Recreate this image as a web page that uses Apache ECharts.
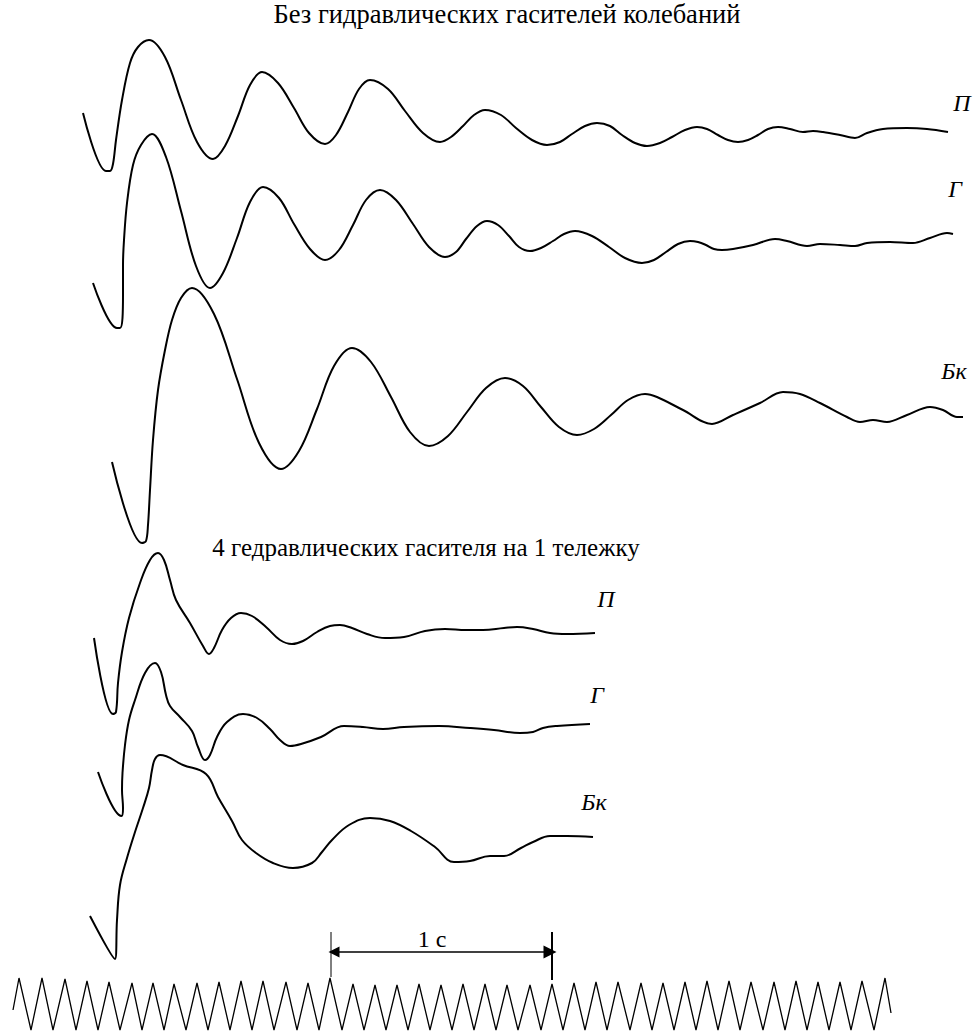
<!DOCTYPE html>
<html><head><meta charset="utf-8">
<script src="https://cdn.jsdelivr.net/npm/echarts@6/dist/echarts.min.js"></script>
<style>html,body{margin:0;padding:0;background:#fff}#c{width:973px;height:1032px}</style>
</head><body><div id="c"></div>
<script>
var topP = [[83,113],[106,171],[110,171],[113,164],[116,140],[122,100],[130,63],[138,47],[149,40],[165,57],[181,100],[197,142],[213,159],[225,146],[238,116],[250,85],[262,72],[278,83],[294,108],[309,133],[325,144],[336,135],[348,112],[359,89],[370,80],[388,89],[405,111],[423,133],[440,142],[451,137],[463,126],[474,115],[485,110],[501,115],[516,128],[532,140],[547,145],[560,142],[572,134],[585,126],[597,123],[610,126],[622,135],[635,143],[647,146],[660,143],[672,137],[685,130],[697,127],[707,129],[718,135],[728,140],[738,142],[748,140],[758,135],[768,129],[778,127],[790,129],[803,132],[813,131],[823,132],[840,135],[855,138],[867,133],[883,129],[907,128],[927,129],[948,132]];
var topG = [[93,283],[117,328],[120,328],[122.5,318],[123,295],[123,265],[124,240],[127,203],[133,165],[141,145],[152,134],[166,157],[181,211],[196,266],[210,288],[223,273],[237,238],[250,202],[263,187],[279,198],[294,224],[310,249],[325,260],[339,250],[353,225],[366,200],[380,190],[396,200],[413,224],[429,247],[445,257],[456,252],[466,239],[477,226],[487,221],[498,225],[509,236],[519,247],[530,251],[541,248],[553,241],[564,234],[575,231],[592,236],[609,247],[625,258],[642,263],[654,260],[666,252],[678,244],[690,241],[698,242],[706,245],[714,249],[722,250],[733,249],[753,245],[775,239],[787,241],[807,246],[820,244],[840,245],[855,246],[867,243],[890,242],[913,243],[930,238],[947,233],[953,234]];
var topBk = [[112,462],[142,543],[146,541],[148,525],[150,490],[153,440],[158,390],[165,350],[172,320],[181,298],[192,288],[214,314],[237,379],[259,443],[281,469],[299,451],[317,409],[334,366],[352,348],[371,362],[391,397],[410,432],[429,446],[448,436],[467,412],[486,388],[505,378],[523,386],[541,407],[559,427],[577,435],[594,429],[611,415],[628,400],[645,394],[657,397],[683,410],[712,424],[733,415],[760,403],[783,392],[800,394],[820,403],[847,417],[860,422],[873,420],[887,422],[907,415],[930,407],[943,410],[957,417],[963,417]];
var lowP = [[94,638],[113,714],[116,712],[118,683],[122,652],[129,618],[140,583],[150,560],[158,553],[164,560],[170,580],[176,600],[190,623],[203,646],[209,654],[214,648],[222,630],[231,618],[241,613],[252,616],[266,627],[280,640],[292,644],[303,641],[317,632],[330,626],[340,625],[352,628],[367,634],[385,638],[404,637],[425,631],[445,629],[466,630],[483,630],[504,628],[517,627],[533,629],[550,633],[567,634],[595,633]];
var lowG = [[98,772],[121.5,816],[123,808],[122,790],[122.5,773],[125,745],[129,720],[135,700],[145,673],[155,663],[161,672],[166,695],[170,706],[180,717],[192,731],[198,747],[205,760],[210,755],[217,737],[227,722],[243,714],[257,718],[270,729],[280,740],[290,746],[301,744],[321,737],[344,726],[363,727],[383,729],[404,727],[439,726],[470,728],[494,730],[520,733],[533,732],[543,728],[557,726],[590,724]];
var lowBk = [[90,916],[115,959],[117,920],[120,885],[127,858],[135,832],[143,808],[149,788],[152,770],[155,759],[160,755],[183,765],[206,774],[218,797],[232,821],[242,840],[256,853],[273,863],[293,868],[312,863],[322,852],[332,840],[349,825],[370,818],[390,821],[411,831],[435,847],[454,862],[470,861],[490,856],[504,856],[521,848],[533,842],[550,836],[567,836],[593,837]];
// Timing trace (10 Hz)
var tickPeakX = [19,42,65,87,109,132,153,174,197,219,241,263,286,308,330,353,375,397,419,441,463,485,507,530,552,574,596,618,641,663,685,707,729,751,774,796,818,840,862,885];
var tickPeakY = [978,978,979,981,982,983,983,984,983,982,981,981,982,983,978,984,985,985,984,985,984,984,985,985,984,983,982,982,983,983,982,981,981,982,982,981,982,982,981,978];
var tickTroughX = [31,53,76,98,120,142,164,186,208,230,252,274,297,319,342,364,386,408,430,452,474,496,518,541,563,585,607,630,652,674,696,718,740,763,785,807,829,851,874];
var tickTroughY = [1030,1030,1030,1030,1030,1030,1030,1030,1030,1030,1030,1030,1030,1030,1030,1030,1030,1030,1030,1030,1030,1030,1030,1030,1030,1030,1030,1030,1030,1030,1030,1030,1030,1030,1030,1030,1030,1030,1030];
var tickStart = [13,1010];
var tickEnd = [891,1013];
// 1 s marker
var secMarkX = [331, 552];
var secMarkTop = 932;
var secMarkBottom = [977, 980];
var secArrowY = 952;
var secArrowX = [334, 550];

var titles = ['Без гидравлических гасителей колебаний', '4 гедравлических гасителя на 1 тележку'];
var traceNames = ['П', 'Г', 'Бк'];

var zig = [tickStart];
for (var i = 0; i < tickPeakX.length; i++) {
  zig.push([tickPeakX[i], tickPeakY[i]]);
  if (i < tickTroughX.length) zig.push([tickTroughX[i], tickTroughY[i]]);
}
zig.push(tickEnd);

function trace(d, s) {
  return {type:'line', data:d, showSymbol:false, smooth:s, silent:true,
    lineStyle:{color:'#000', width:2}};
}
var series = [
  trace(topP, 0.35), trace(topG, 0.35), trace(topBk, 0.35), trace(lowP, 0.4), trace(lowG, 0.4), trace(lowBk, 0.4),
  {type:'line', data:zig, showSymbol:false, smooth:false, silent:true, lineStyle:{color:'#000', width:1.3}},
  {type:'line', data:[[secMarkX[0],secMarkTop],[secMarkX[0],secMarkBottom[0]]], showSymbol:false, silent:true, lineStyle:{color:'#000', width:1}},
  {type:'line', data:[[secMarkX[1],secMarkTop],[secMarkX[1],secMarkBottom[1]]], showSymbol:false, silent:true, lineStyle:{color:'#000', width:2}},
  {type:'lines', coordinateSystem:'cartesian2d', silent:true,
    symbol:['triangle','triangle'], symbolSize:[11,13],
    lineStyle:{color:'#000', width:1.5, opacity:1},
    data:[{coords:[[secArrowX[0],secArrowY],[secArrowX[1],secArrowY]]}]}
];

var serif = 'Liberation Serif';
function txt(s, x, y, italic, size) {
  return {type:'text', x:x, y:y, silent:true,
    style:{text:s, fill:'#000', fontFamily:serif, fontSize:size, fontStyle:italic?'italic':'normal',
      textAlign:'center', textVerticalAlign:'middle'}};
}
var graphics = [
  txt(titles[0], 507, 14, false, 26.5),
  txt(titles[1], 426, 547, false, 25),
  txt(traceNames[0], 962, 103, true, 24),
  txt(traceNames[1], 955, 189, true, 24),
  txt(traceNames[2], 954, 371, true, 24),
  txt(traceNames[0], 606, 599, true, 24),
  txt(traceNames[1], 597, 695, true, 24),
  txt(traceNames[2], 594, 802, true, 24),
  txt('1 с', 432, 939, false, 24)
];

var chart = echarts.init(document.getElementById('c'), null, {renderer:'svg'});
chart.setOption({
  animation:false,
  backgroundColor:'#fff',
  grid:{left:0, right:0, top:0, bottom:0},
  xAxis:{type:'value', min:0, max:973, show:false},
  yAxis:{type:'value', min:0, max:1032, inverse:true, show:false},
  series:series,
  graphic:graphics
});
</script></body></html>
